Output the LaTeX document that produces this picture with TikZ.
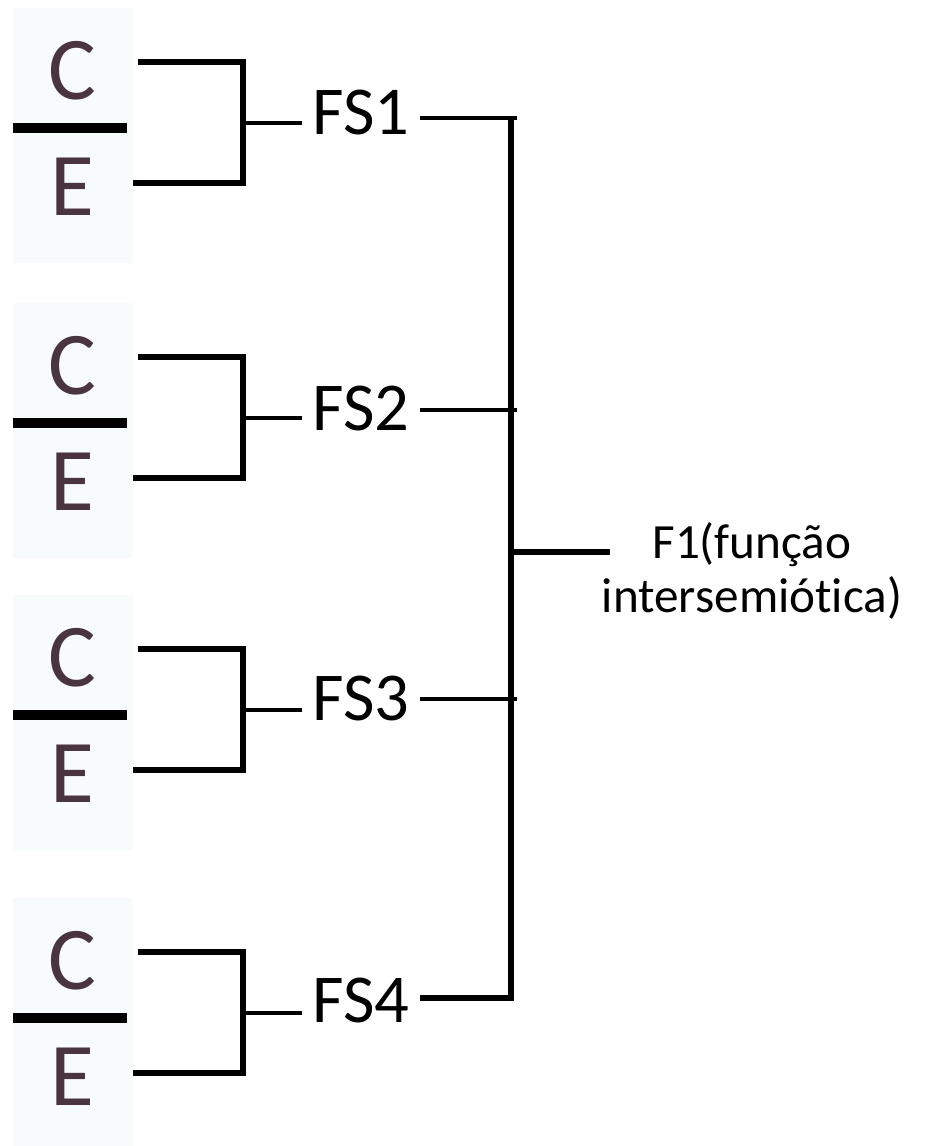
\documentclass[tikz,border=0pt]{standalone}
\usepackage{fontspec}
\setmainfont{Carlito}[Ligatures=NoCommon]
\usepackage{xcolor}
\definecolor{signtext}{HTML}{4A3440}
\definecolor{signsoft}{HTML}{F8FBFB}
\usetikzlibrary{calc}

\begin{document}
\begin{tikzpicture}[
    x=0.02cm, y=-0.02cm,
    signlabel/.style={inner sep=0pt, text=signtext, font=\fontsize{51}{60}\selectfont},
    fslabel/.style={inner xsep=6pt, inner ysep=0pt, font=\fontsize{39}{46}\selectfont},
    funclabel/.style={inner sep=0pt, align=center, font=\fontsize{28}{31}\selectfont},
    signbox/.style={fill=signsoft, draw=none},
    fracbar/.style={line width=5.5pt},
    bracket/.style={line width=3.2pt, line join=miter},
    stub/.style={line width=2.4pt},
    link/.style={line width=2.8pt},
    trunk/.style={line width=3.4pt, line join=miter, line cap=square}
]
    \useasboundingbox (0,0) rectangle (944,1146);

    % sign groups: content over expression
    \foreach \i/\t/\f in {1/123/112, 2/418/408, 3/710/698, 4/1013/1000} {
        \fill[signbox] (13,\t-115) rectangle (133,\t+140);
        \node[signlabel] (c\i) at (72,\t-52) {C};
        \node[signlabel] (e\i) at (72,\t+64) {E};
        \draw[fracbar] (13,\t+5) -- (127,\t+5);
        \coordinate (ct\i) at (138,\t-61);
        \coordinate (cj\i) at (243,\t);
        \coordinate (cb\i) at (133,\t+60);
        \draw[bracket] (ct\i) -- (ct\i -| cj\i) -- (cb\i -| cj\i) -- (cb\i);
        \node[fslabel] (fs\i) at (361,\f) {FS\i};
        \draw[stub] (cj\i) -- (fs\i.west |- cj\i);
    }

    % trunk
    \coordinate (top) at (511,118);
    \coordinate (bot) at (511,998);
    \coordinate (hub) at (511,552);
    \coordinate (f1end) at (610,552);
    \foreach \i/\r in {1/118, 2/410, 3/699} {
        \coordinate (rj\i) at (517,\r);
        \draw[link] (rj\i -| fs\i.east) -- (rj\i);
    }
    \draw[trunk] (bot -| fs4.east) -- (bot) -- (top);
    \draw[trunk] (hub) -- (f1end);

    % function
    \node[funclabel] (f1) at (752,571) {F1(função\\intersemiótica)};
\end{tikzpicture}
\end{document}
